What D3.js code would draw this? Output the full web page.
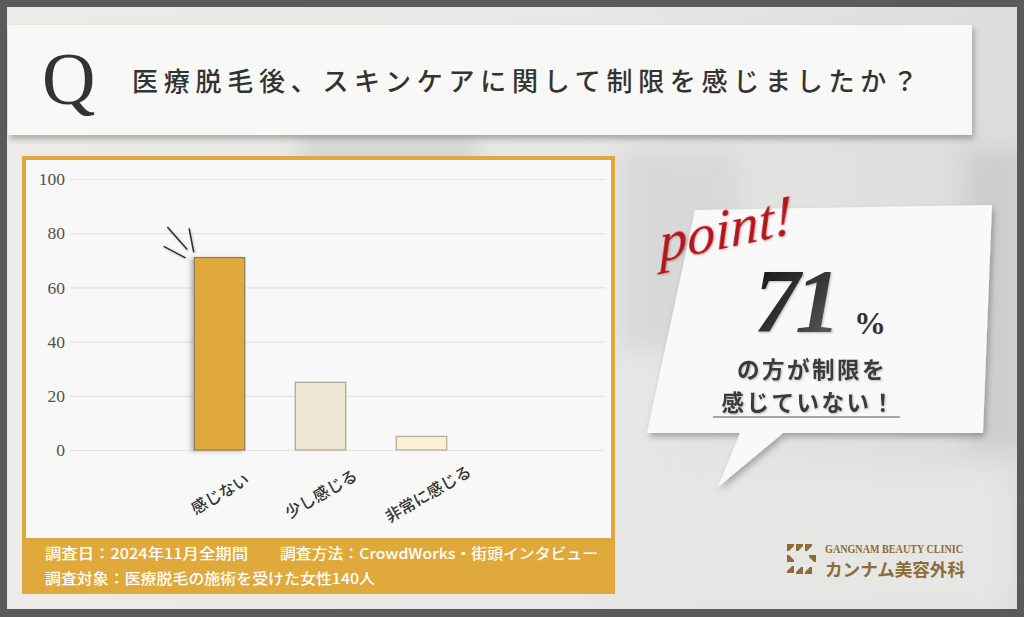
<!DOCTYPE html>
<html><head><meta charset="utf-8">
<script src="https://cdn.jsdelivr.net/npm/d3@7"></script>
<style>
html,body{margin:0;padding:0;background:#5a5a5a;}
svg{display:block;}
</style></head>
<body>
<svg id="c" width="1024" height="617"></svg>
<script>
// ---- data ----
const categories = ["感じない", "少し感じる", "非常に感じる"];
const values = [71, 25, 5];
const yTicks = [0, 20, 40, 60, 80, 100];
const barColors = ["#e0a93b", "#efe6d6", "#fcf0d4"];
const barStrokes = ["#8a7a58", "#aaa396", "#b3ab9b"];
const titleQ = "Q";
const titleText = "医療脱毛後、スキンケアに関して制限を感じましたか？";
const footerLines = [
  ["調査日：2024年11月全期間", "調査方法：CrowdWorks・街頭インタビュー"],
  ["調査対象：医療脱毛の施術を受けた女性140人"]
];
const pointWord = "point!";
const bigNumber = "71";
const bubbleLines = ["の方が制限を", "感じていない！"];
const logoEn = "GANGNAM BEAUTY CLINIC";
const logoJa = "カンナム美容外科";

const JP = "'Noto Sans CJK JP', 'Noto Sans', sans-serif";
const SERIF = "'Liberation Serif', 'DejaVu Serif', serif";

const svg = d3.select("#c");
const defs = svg.append("defs");

function shadow(id, dx, dy, sd, op) {
  const f = defs.append("filter").attr("id", id).attr("x", "-20%").attr("y", "-20%").attr("width", "140%").attr("height", "150%");
  f.append("feDropShadow").attr("dx", dx).attr("dy", dy).attr("stdDeviation", sd)
    .attr("flood-color", "#000").attr("flood-opacity", op);
}
shadow("sh", 2, 4, 3, 0.28);
shadow("shBar", -3, 1, 2, 0.25);
shadow("shTxt", 1, 1, 1, 0.25);
const blur = defs.append("filter").attr("id", "blur");
blur.append("feGaussianBlur").attr("stdDeviation", 12);

const bg = defs.append("linearGradient").attr("id", "bg").attr("x1", 0).attr("y1", 0).attr("x2", 1).attr("y2", 0);
bg.append("stop").attr("offset", "0").attr("stop-color", "#ecebe7");
bg.append("stop").attr("offset", "0.55").attr("stop-color", "#e8e8e6");
bg.append("stop").attr("offset", "1").attr("stop-color", "#dcdcdb");

const numGrad = defs.append("linearGradient").attr("id", "numG").attr("x1", 0).attr("y1", 0).attr("x2", 1).attr("y2", 1);
numGrad.append("stop").attr("offset", "0").attr("stop-color", "#111");
numGrad.append("stop").attr("offset", "0.6").attr("stop-color", "#3a3a3a");
numGrad.append("stop").attr("offset", "1").attr("stop-color", "#6a6a6a");

// ---- background ----
svg.append("rect").attr("width", 1024).attr("height", 617).attr("fill", "#5a5a5a");
svg.append("rect").attr("x", 7).attr("y", 7).attr("width", 1010).attr("height", 602).attr("fill", "url(#bg)");
const cp = defs.append("clipPath").attr("id", "inner");
cp.append("rect").attr("x", 7).attr("y", 7).attr("width", 1010).attr("height", 602);
const photo = svg.append("g").attr("clip-path", "url(#inner)").append("g").attr("filter", "url(#blur)");
photo.append("rect").attr("x", 300).attr("y", 138).attr("width", 180).attr("height", 30).attr("fill", "#d2d2d2");
photo.append("rect").attr("x", 620).attr("y", 150).attr("width", 120).attr("height", 200).attr("fill", "#d8d8d6");
photo.append("rect").attr("x", 965).attr("y", 150).attr("width", 60).attr("height", 300).attr("fill", "#cdcdcb");
photo.append("rect").attr("x", 620).attr("y", 470).attr("width", 390).attr("height", 140).attr("fill", "#e6e6e4");

// ---- title box ----
svg.append("rect").attr("x", 8).attr("y", 25).attr("width", 964).attr("height", 110)
  .attr("fill", "#f8f8f7").attr("filter", "url(#sh)");
svg.append("text").attr("x", 42).attr("y", 104).text(titleQ)
  .attr("font-family", SERIF).attr("font-size", 74).attr("fill", "#333");
svg.append("text").attr("x", 132).attr("y", 91).text(titleText)
  .attr("font-family", JP).attr("font-weight", 500).attr("font-size", 26).attr("fill", "#333")
  .attr("textLength", 786).attr("lengthAdjust", "spacing");

// ---- chart panel ----
svg.append("rect").attr("x", 22).attr("y", 156).attr("width", 593).attr("height", 438).attr("fill", "#e0a93b");
svg.append("rect").attr("x", 26).attr("y", 160).attr("width", 585).attr("height", 378).attr("fill", "#f8f8f8");

const y = d3.scaleLinear().domain([0, 100]).range([450, 179]);
const x = d3.scaleBand().domain(categories).range([169, 472]).paddingInner(0.5).paddingOuter(0.25);

const gridG = svg.append("g").attr("transform", "translate(70,0)")
  .call(d3.axisLeft(y).tickValues(yTicks).tickSize(0).tickFormat(d => d).tickPadding(5));
gridG.select(".domain").remove();
gridG.selectAll(".tick line").attr("x1", 0).attr("x2", 535).attr("stroke", "#e3e3e3").attr("stroke-width", 1.2);
gridG.selectAll(".tick text").attr("font-family", SERIF).attr("font-size", 17.5).attr("fill", "#505050");

// bars
svg.append("g").selectAll("rect").data(values).join("rect")
  .attr("x", (d, i) => x(categories[i]))
  .attr("y", d => y(d))
  .attr("width", x.bandwidth())
  .attr("height", d => y(0) - y(d))
  .attr("fill", (d, i) => barColors[i])
  .attr("stroke", (d, i) => barStrokes[i])
  .attr("stroke-width", 1.2)
  .attr("filter", (d, i) => i === 0 ? "url(#shBar)" : null);

// sparkle lines near first bar top-left corner
const bx = x(categories[0]), by = y(values[0]);
const spark = [[[-26.5, -30], [-7.5, -8.5]], [[-5, -28.5], [-0.6, -6]], [[-30, -11], [-9.3, 0]]];
svg.append("g").attr("filter", "url(#shTxt)").selectAll("line").data(spark).join("line")
  .attr("x1", d => bx + d[0][0]).attr("y1", d => by + d[0][1])
  .attr("x2", d => bx + d[1][0]).attr("y2", d => by + d[1][1])
  .attr("stroke", "#333").attr("stroke-width", 1.6).attr("stroke-linecap", "round");

// x labels
svg.append("g").selectAll("text").data(categories).join("text")
  .attr("transform", (d, i) => `translate(${x(d) + x.bandwidth() / 2 + (i === 2 ? 6 : 0)},${493}) rotate(-30)`)
  .attr("text-anchor", "middle").attr("dominant-baseline", "central")
  .attr("font-family", JP).attr("font-weight", 500).attr("font-size", 16).attr("fill", "#333")
  .text(d => d);

// footer text
const fy = [559, 584];
const fx = [[45, 280], [45]];
const fw = [[203, 318], [330]];
footerLines.forEach((line, li) => {
  line.forEach((t, ti) => {
    svg.append("text").attr("x", fx[li][ti]).attr("y", fy[li]).text(t)
      .attr("font-family", JP).attr("font-weight", 500).attr("font-size", 14.5).attr("fill", "#fff")
      .attr("textLength", fw[li][ti]).attr("lengthAdjust", "spacingAndGlyphs");
  });
});

// ---- speech bubble ----
const bubble = [[695, 210], [992, 205], [983, 433], [783, 433], [718, 487], [740, 433], [647, 433]];
svg.append("polygon").attr("points", bubble.map(p => p.join(",")).join(" "))
  .attr("fill", "#f9f9f9").attr("filter", "url(#sh)");

svg.append("text").attr("transform", "translate(660,262) rotate(-12) skewX(-10)").text(pointWord)
  .attr("font-family", SERIF).attr("font-style", "italic").attr("font-size", 56).attr("fill", "#b3141c")
  .attr("filter", "url(#shTxt)").attr("textLength", 136).attr("lengthAdjust", "spacingAndGlyphs");

svg.append("text").attr("x", 754).attr("y", 332).text(bigNumber)
  .attr("font-family", SERIF).attr("font-weight", "bold").attr("font-style", "italic")
  .attr("font-size", 92).attr("fill", "url(#numG)").attr("letter-spacing", -5).attr("filter", "url(#shTxt)");
svg.append("text").attr("x", 854).attr("y", 334).text("%")
  .attr("font-family", SERIF).attr("font-weight", "bold").attr("font-size", 32).attr("fill", "#333");

svg.append("text").attr("x", 812).attr("y", 378).text(bubbleLines[0])
  .attr("text-anchor", "middle").attr("font-family", JP).attr("font-weight", 700).attr("font-size", 22.5)
  .attr("fill", "#3a3a3a").attr("letter-spacing", 2.5).attr("filter", "url(#shTxt)");
svg.append("text").attr("x", 809).attr("y", 411).text(bubbleLines[1])
  .attr("text-anchor", "middle").attr("font-family", JP).attr("font-weight", 700).attr("font-size", 22.5)
  .attr("fill", "#3a3a3a").attr("letter-spacing", 2.5).attr("filter", "url(#shTxt)");
svg.append("line").attr("x1", 713).attr("x2", 900).attr("y1", 417).attr("y2", 417)
  .attr("stroke", "#555").attr("stroke-width", 1.2);

// ---- logo ----
const logo = svg.append("g").attr("transform", "translate(785,543)").attr("fill", "#8c6d3a");
const leafPos = [[2, 1, 0], [11, 1, 0], [20, 1, 0], [2, 12, -90], [24, 12, 90], [2, 23, 180], [11, 24, 180], [20, 24, 180]];
logo.selectAll("path").data(leafPos).join("path")
  .attr("d", "M0,0 L7,0 L7,2 L2,7 L0,7 Z")
  .attr("transform", d => `translate(${d[0]},${d[1]}) rotate(${d[2]},3.5,3.5)`);
svg.append("text").attr("x", 825).attr("y", 553).text(logoEn)
  .attr("font-family", SERIF).attr("font-weight", "bold").attr("font-size", 11.5).attr("fill", "#8c6d3a")
  .attr("textLength", 138).attr("lengthAdjust", "spacingAndGlyphs");
svg.append("text").attr("x", 825).attr("y", 576).text(logoJa)
  .attr("font-family", JP).attr("font-weight", 700).attr("font-size", 17.5).attr("fill", "#8c6d3a")
  .attr("textLength", 140).attr("lengthAdjust", "spacingAndGlyphs");
</script>
</body></html>
